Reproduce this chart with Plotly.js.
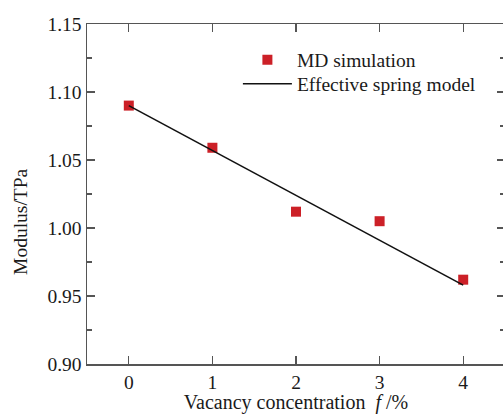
<!DOCTYPE html>
<html>
<head>
<meta charset="utf-8">
<script src="https://cdn.plot.ly/plotly-3.0.1.min.js"></script>
<style>
html,body{margin:0;padding:0;overflow:hidden;background:#fff;}
#chart{width:505px;height:414px;}
</style>
</head>
<body>
<div id="chart"></div>
<script>
var concentration = [0, 1, 2, 3, 4];
var mdModulus = [1.090, 1.059, 1.012, 1.005, 0.962];
var springModulus = [1.090, 1.057, 1.024, 0.991, 0.958];
var xTicks = [0, 1, 2, 3, 4];
var yTicks = [0.90, 0.95, 1.00, 1.05, 1.10, 1.15];
var yTickText = ['0.90', '0.95', '1.00', '1.05', '1.10', '1.15'];

var serif = 'Liberation Serif, Times New Roman, serif';
var axisColor = '#555555';
var textColor = '#1a1a1a';

var traces = [
  {
    x: concentration, y: mdModulus, mode: 'markers', type: 'scatter',
    name: 'MD simulation', legend: 'legend',
    marker: {symbol: 'square', size: 10, color: '#cc2027'}
  },
  {
    x: concentration, y: springModulus, mode: 'lines', type: 'scatter',
    name: 'Effective spring model', legend: 'legend2',
    line: {color: '#111111', width: 1.6}
  }
];

function legendBox(y) {
  return {
    x: 0.361, y: y, xanchor: 'left', yanchor: 'middle',
    bgcolor: 'rgba(0,0,0,0)', font: {family: serif, size: 19.5, color: textColor},
    itemwidth: 49, borderwidth: 0
  };
}

var layout = {
  width: 505, height: 414,
  margin: {l: 87, r: 0, t: 24, b: 50},
  paper_bgcolor: '#ffffff', plot_bgcolor: '#ffffff',
  font: {family: serif, size: 19.5, color: textColor},
  showlegend: true,
  legend: legendBox(0.894),
  legend2: legendBox(0.8235),
  xaxis: {
    range: [-0.5, 4.5], tickmode: 'array', tickvals: xTicks,
    ticks: 'inside', ticklen: 8, tickwidth: 1.3, tickcolor: axisColor,
    showline: true, linecolor: axisColor, linewidth: 1.5, mirror: 'ticks',
    showgrid: false, zeroline: false,
    tickfont: {family: serif, size: 19.5, color: textColor},
    title: {text: 'Vacancy concentration  <i>f</i> /%', font: {family: serif, size: 20, color: textColor}, standoff: 5}
  },
  yaxis: {
    range: [0.90, 1.15], tickmode: 'array', tickvals: yTicks, ticktext: yTickText,
    ticks: 'inside', ticklen: 8, tickwidth: 1.3, tickcolor: axisColor,
    minor: {dtick: 0.025, ticks: 'inside', ticklen: 5, tickcolor: axisColor, tickwidth: 1.3},
    showline: true, linecolor: axisColor, linewidth: 1.5, mirror: 'ticks',
    showgrid: false, zeroline: false,
    tickfont: {family: serif, size: 19.5, color: textColor}
  },
  annotations: [{
    text: 'Modulus/TPa', textangle: -90, xref: 'paper', yref: 'paper',
    x: -0.161, y: 0.42, xanchor: 'center', yanchor: 'middle', showarrow: false,
    font: {family: serif, size: 19.5, color: textColor}
  }]
};

Plotly.newPlot('chart', traces, layout, {displayModeBar: false, staticPlot: true});
</script>
</body>
</html>
